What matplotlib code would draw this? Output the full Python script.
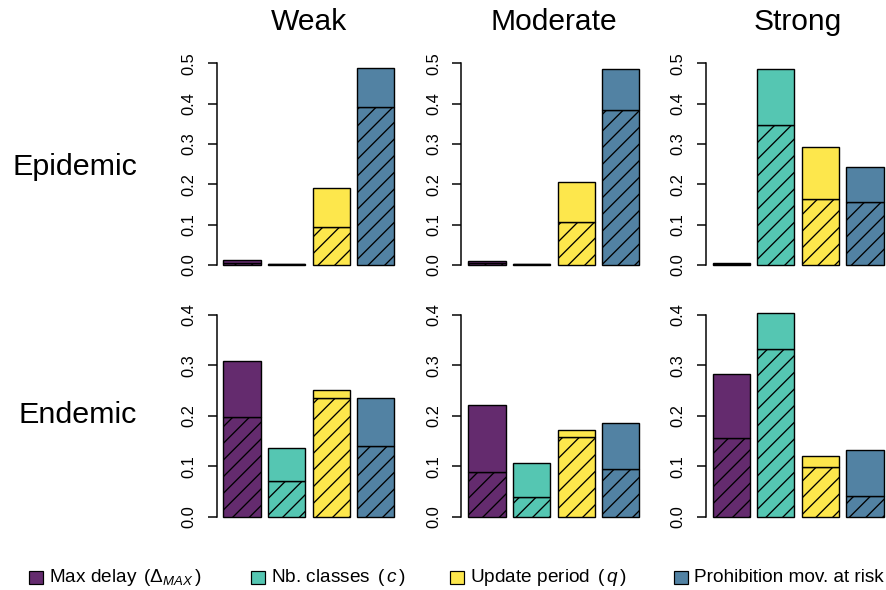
import matplotlib
matplotlib.use("Agg")
import matplotlib.pyplot as plt
from matplotlib.patches import Rectangle
import numpy as np

plt.rcParams['font.family'] = ['Liberation Sans', 'DejaVu Sans']
plt.rcParams['mathtext.fontset'] = 'custom'
plt.rcParams['mathtext.rm'] = 'Liberation Sans'
plt.rcParams['mathtext.it'] = 'Liberation Sans:italic'
plt.rcParams['hatch.linewidth'] = 0.95

# data: one list per scenario, bars in legend order
scenarios = ['Weak', 'Moderate', 'Strong']
levels = ['Epidemic', 'Endemic']
factors = [r'Max delay $\,(\Delta_{MAX}\,)$', r'Nb. classes $\,(\,c\,)$',
           r'Update period $\,(\,q\,)$', 'Prohibition mov. at risk']
colors = ['#642B6E', '#55C6B2', '#FDE74C', '#5282A3']

epidemic_total = [[0.013, 0.003, 0.190, 0.489],
                  [0.011, 0.003, 0.205, 0.486],
                  [0.006, 0.487, 0.292, 0.244]]
epidemic_hatched = [[0.006, 0.0015, 0.095, 0.391],
                    [0.005, 0.0015, 0.106, 0.383],
                    [0.003, 0.346, 0.164, 0.155]]
endemic_total = [[0.308, 0.136, 0.251, 0.235],
                 [0.221, 0.106, 0.171, 0.186],
                 [0.283, 0.403, 0.120, 0.133]]
endemic_hatched = [[0.197, 0.070, 0.235, 0.140],
                   [0.089, 0.040, 0.159, 0.094],
                   [0.156, 0.333, 0.099, 0.042]]

W, H = 886, 590
fig = plt.figure(figsize=(W / 100, H / 100), dpi=100)
PT = 0.72  # points per pixel at 100 dpi


def px_axes(left, right, top, bottom):
    return fig.add_axes([left / W, 1 - bottom / H, (right - left) / W, (bottom - top) / H])


col_left = [216.5, 461.5, 705.8]
col_width = 184.7
rows = [dict(top=55.2, bottom=273.1, ymax=0.5, total=epidemic_total, hatched=epidemic_hatched),
        dict(top=306.9, bottom=524.8, ymax=0.4, total=endemic_total, hatched=endemic_hatched)]

# R barplot geometry: width 1, space 0.2
x = 0.2 + np.arange(4) * 1.2 + 0.5

for r, row in enumerate(rows):
    for c in range(3):
        ax = px_axes(col_left[c], col_left[c] + col_width, row['top'], row['bottom'])
        tot = np.array(row['total'][c])
        low = np.array(row['hatched'][c])
        ax.bar(x, low, width=1, color=colors, edgecolor='black', linewidth=1.4 * PT, hatch='//')
        ax.bar(x, tot - low, bottom=low, width=1, color=colors, edgecolor='black', linewidth=1.4 * PT)
        ymax = row['ymax']
        ax.set_xlim(0.2 - 0.184, 4.8 + 0.184)
        ax.set_ylim(-0.04 * ymax, ymax * 1.04)
        ticks = np.arange(0, ymax + 0.001, 0.1)
        ax.set_yticks(ticks)
        ax.set_yticklabels([f'{t:.1f}' for t in ticks], rotation=90, va='center', fontsize=16.5 * PT)
        ax.tick_params(axis='y', length=9 * PT, width=1.5 * PT, pad=11 * PT)
        ax.set_xticks([])
        for s in ['top', 'right', 'bottom']:
            ax.spines[s].set_visible(False)
        ax.spines['left'].set_bounds(0, ymax)
        ax.spines['left'].set_linewidth(1.5 * PT)
        ax.patch.set_visible(False)
        if r == 0:
            fig.text((col_left[c] + col_width / 2) / W, 1 - 22 / H, scenarios[c],
                     fontsize=30 * PT, ha='center', va='center')

fig.text(137 / W, 1 - 167 / H, levels[0], fontsize=30.5 * PT, ha='right', va='center')
fig.text(137 / W, 1 - 415 / H, levels[1], fontsize=30.5 * PT, ha='right', va='center')

# legend along the bottom
leg_x = [29.3, 250.7, 450.0, 674.0]
for lx, col, lab in zip(leg_x, colors, factors):
    fig.add_artist(Rectangle((lx / W, 1 - 584 / H), 14 / W, 13 / H, transform=fig.transFigure,
                             facecolor=col, edgecolor='black', linewidth=1.2 * PT))
    fig.text((lx + 20) / W, 1 - 577.5 / H, lab, fontsize=19 * PT, ha='left', va='center')

fig.savefig('out.png', dpi=100)
